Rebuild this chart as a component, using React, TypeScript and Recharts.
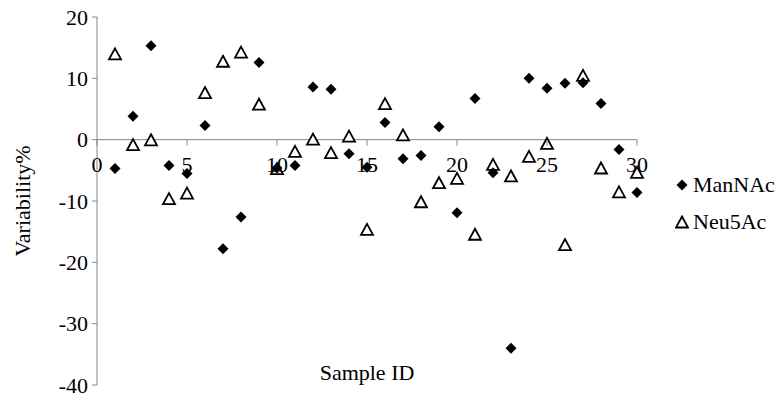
import { ReferenceLine, Scatter, ScatterChart, XAxis, YAxis } from "recharts"

// Values
const sampleIds = [
  1, 2, 3, 4, 5, 6, 7, 8, 9, 10, 11, 12, 13, 14, 15, 16, 17, 18, 19, 20, 21, 22, 23, 24, 25, 26, 27, 28, 29, 30,
]
const manNAc = [
  -4.7, 3.8, 15.3, -4.2, -5.5, 2.3, -17.8, -12.6, 12.6, -4.6, -4.2, 8.6, 8.2, -2.3, -4.5, 2.8, -3.1, -2.6, 2.1,
  -11.9, 6.7, -5.4, -34.0, 10.0, 8.4, 9.2, 9.3, 5.9, -1.6, -8.6,
]
const neu5Ac = [
  13.9, -0.9, -0.1, -9.7, -8.8, 7.6, 12.7, 14.2, 5.7, -4.8, -2.0, 0.0, -2.2, 0.5, -14.7, 5.8, 0.7, -10.2, -7.1,
  -6.4, -15.5, -4.1, -6.0, -2.8, -0.7, -17.2, 10.4, -4.7, -8.6, -5.4,
]
const xTicks = [0, 5, 10, 15, 20, 25, 30]
const yTicks = [-40, -30, -20, -10, 0, 10, 20]

const manData = sampleIds.map((x, i) => ({ x, y: manNAc[i] }))
const neuData = sampleIds.map((x, i) => ({ x, y: neu5Ac[i] }))

const W = 783
const H = 401
const TOP = 17
const XAXIS_H = 16
const AXIS = "#868686"
const FONT = "'Liberation Serif', 'Times New Roman', Tinos, 'Noto Serif', 'DejaVu Serif', serif"
// pixel row of value 0 (the x axis crosses there)
const ZERO_Y = TOP + ((20 - 0) / 60) * (H - TOP - XAXIS_H)

const Diamond = (props: any) => {
  const { cx, cy } = props
  const r = 5.5
  return <polygon points={`${cx},${cy - r} ${cx + r},${cy} ${cx},${cy + r} ${cx - r},${cy}`} fill="#000" />
}

const Triangle = (props: any) => {
  const { cx, cy } = props
  return (
    <polygon
      points={`${cx},${cy - 6} ${cx + 6},${cy + 5} ${cx - 6},${cy + 5}`}
      fill="#fff"
      stroke="#000"
      strokeWidth={1.8}
    />
  )
}

const XTick = (props: any) => {
  const { x, payload } = props
  return (
    <g>
      <line x1={x} x2={x} y1={ZERO_Y} y2={ZERO_Y + 6} stroke={AXIS} />
      <text x={x} y={ZERO_Y + 25} textAnchor="middle" dominantBaseline="central" fill="#000" fontSize={22} style={{ fontFamily: FONT }}>
        {payload.value}
      </text>
    </g>
  )
}

const LegendBox = () => (
  <div style={{ position: "absolute", left: 675, top: 166, fontFamily: FONT, fontSize: 22, color: "#000" }}>
    <div style={{ display: "flex", alignItems: "center", height: 37 }}>
      <svg width={14} height={14} style={{ marginRight: 4 }}>
        <polygon points="7,1.5 12.5,7 7,12.5 1.5,7" fill="#000" />
      </svg>
      ManNAc
    </div>
    <div style={{ display: "flex", alignItems: "center", height: 37 }}>
      <svg width={14} height={14} style={{ marginRight: 4 }}>
        <polygon points="7,1.5 13,12.5 1,12.5" fill="#fff" stroke="#000" strokeWidth={1.8} />
      </svg>
      Neu5Ac
    </div>
  </div>
)

export default function App() {
  return (
    <div style={{ position: "absolute", left: 0, top: 0, width: W, height: H, background: "#fff", fontFamily: FONT }}>
      <ScatterChart width={W} height={H} margin={{ top: TOP, right: 146, bottom: 0, left: 10 }} style={{ fontFamily: FONT }}>
        <XAxis
          type="number"
          dataKey="x"
          domain={[0, 30]}
          ticks={xTicks}
          interval={0}
          height={XAXIS_H}
          axisLine={false}
          tickLine={false}
          tick={<XTick />}
          label={{ value: "Sample ID", position: "top", offset: 5, fill: "#000", fontSize: 22, style: { fontFamily: FONT } }}
        />
        <YAxis
          type="number"
          dataKey="y"
          domain={[-40, 20]}
          ticks={yTicks}
          interval={0}
          width={87}
          stroke={AXIS}
          tickSize={5}
          tickMargin={4}
          tick={{ fill: "#000", fontSize: 22, style: { fontFamily: FONT } }}
          label={{
            value: "Variability%",
            angle: -90,
            position: "insideLeft",
            offset: 12,
            fill: "#000",
            fontSize: 22,
            style: { textAnchor: "middle", fontFamily: FONT },
          }}
        />
        <ReferenceLine y={0} stroke={AXIS} />
        <Scatter name="Neu5Ac" data={neuData} shape={Triangle} isAnimationActive={false} />
        <Scatter name="ManNAc" data={manData} shape={Diamond} isAnimationActive={false} />
      </ScatterChart>
      <LegendBox />
    </div>
  )
}
